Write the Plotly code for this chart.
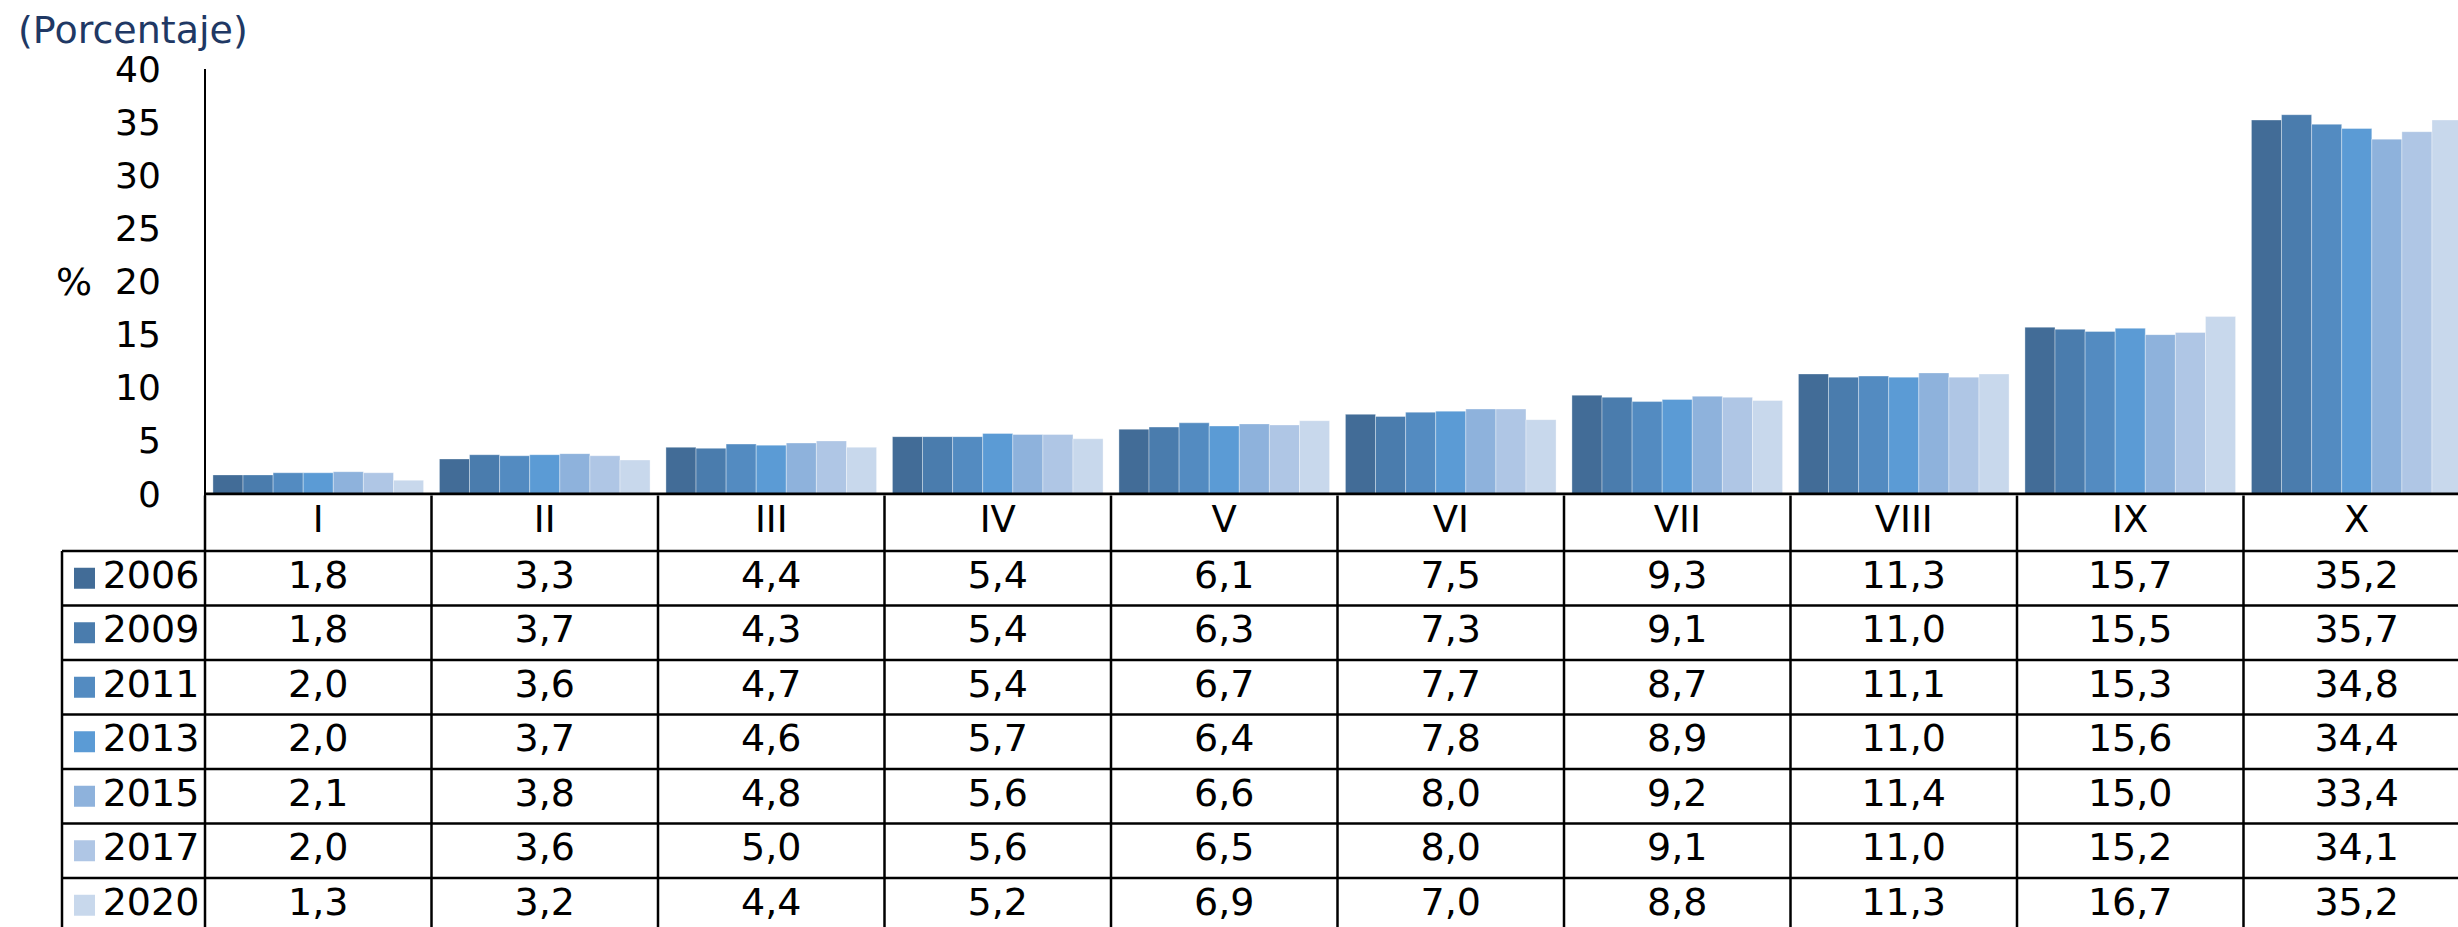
import plotly.graph_objects as go

# data
categories = ["I", "II", "III", "IV", "V", "VI", "VII", "VIII", "IX", "X"]
years = ["2006", "2009", "2011", "2013", "2015", "2017", "2020"]

v2006 = [1.8, 3.3, 4.4, 5.4, 6.1, 7.5, 9.3, 11.3, 15.7, 35.2]
v2009 = [1.8, 3.7, 4.3, 5.4, 6.3, 7.3, 9.1, 11.0, 15.5, 35.7]
v2011 = [2.0, 3.6, 4.7, 5.4, 6.7, 7.7, 8.7, 11.1, 15.3, 34.8]
v2013 = [2.0, 3.7, 4.6, 5.7, 6.4, 7.8, 8.9, 11.0, 15.6, 34.4]
v2015 = [2.1, 3.8, 4.8, 5.6, 6.6, 8.0, 9.2, 11.4, 15.0, 33.4]
v2017 = [2.0, 3.6, 5.0, 5.6, 6.5, 8.0, 9.1, 11.0, 15.2, 34.1]
v2020 = [1.3, 3.2, 4.4, 5.2, 6.9, 7.0, 8.8, 11.3, 16.7, 35.2]

series = [v2006, v2009, v2011, v2013, v2015, v2017, v2020]
colors = ["#426C97", "#4A7CAD", "#538BC1", "#5B9BD5", "#8EB2DC", "#AFC6E5", "#C8D8EC"]

y_ticks = [0, 5, 10, 15, 20, 25, 30, 35, 40]

FONT = "DejaVu Sans"
W, H = 2458, 927

# layout geometry (pixels -> axis units)
cat_w = 226.5            # px per category
axis_px = 205            # y axis position
left_px = 50
x_lo = -0.5 - (axis_px - left_px) / cat_w
x_hi = -0.5 + (W - axis_px) / cat_w
leg_left = -0.5 - (axis_px - 62) / cat_w
leg_square_x = -0.5 - (axis_px - 84.5) / cat_w
leg_text_x = -0.5 - (axis_px - 151) / cat_w

top_px = 69
zero_px = 494
plot_h = H - top_px
main_bottom_px = zero_px + 1.6
d0 = (H - main_bottom_px) / plot_h

row_h = 54.5
head_h = 57 / row_h
y2_top = (main_bottom_px - zero_px) / row_h
y2_bot = (H - zero_px) / row_h

xs = list(range(len(categories)))

fig = go.Figure()

for name, vals, col in zip(years, series, colors):
    fig.add_trace(go.Bar(
        x=xs, y=vals, name=name,
        marker=dict(color=col, line=dict(color="rgba(255,255,255,0.35)", width=1)),
        showlegend=False, hoverinfo="skip",
    ))

# table header
fig.add_trace(go.Scatter(
    x=xs, y=[head_h / 2] * len(xs), text=categories, mode="text",
    textposition="middle center", textfont=dict(family=FONT, size=37, color="black"),
    yaxis="y2", showlegend=False, hoverinfo="skip",
))

# table rows
for i, (name, vals, col) in enumerate(zip(years, series, colors)):
    yc = head_h + i + 0.5
    fig.add_trace(go.Scatter(
        x=xs, y=[yc] * len(xs),
        text=[f"{v:.1f}".replace(".", ",") for v in vals], mode="text",
        textposition="middle center", textfont=dict(family=FONT, size=38, color="black"),
        yaxis="y2", showlegend=False, hoverinfo="skip",
    ))
    fig.add_trace(go.Scatter(
        x=[leg_square_x], y=[yc], mode="markers",
        marker=dict(symbol="square", size=21, color=col),
        yaxis="y2", showlegend=False, hoverinfo="skip",
    ))
    fig.add_trace(go.Scatter(
        x=[leg_text_x], y=[yc], text=[name], mode="text",
        textposition="middle center", textfont=dict(family=FONT, size=38, color="black"),
        yaxis="y2", showlegend=False, hoverinfo="skip",
    ))

shapes = []
# zero line
shapes.append(dict(type="line", xref="x", yref="y", x0=-0.5, x1=x_hi + 1, y0=0, y1=0,
                   line=dict(color="black", width=3)))
# column separators
for k in range(len(categories) + 1):
    shapes.append(dict(type="line", xref="x", yref="y2", x0=-0.5 + k, x1=-0.5 + k,
                       y0=y2_top - 0.1, y1=y2_bot + 1, line=dict(color="black", width=2.5)))
# legend column left border
shapes.append(dict(type="line", xref="x", yref="y2", x0=leg_left, x1=leg_left,
                   y0=head_h, y1=y2_bot + 1, line=dict(color="black", width=2.5)))
# row separators
for i in range(len(years)):
    shapes.append(dict(type="line", xref="x", yref="y2", x0=leg_left, x1=x_hi + 1,
                       y0=head_h + i, y1=head_h + i, line=dict(color="black", width=2.5)))

fig.update_layout(
    width=W, height=H,
    margin=dict(l=left_px, r=0, t=top_px, b=0, autoexpand=False),
    paper_bgcolor="white", plot_bgcolor="white",
    barmode="group", bargap=0.07, bargroupgap=0,
    font=dict(family=FONT, color="black"),
    xaxis=dict(range=[x_lo, x_hi], visible=False, domain=[0, 1], automargin=False),
    yaxis=dict(
        domain=[d0, 1], range=[-0.15, 40], anchor="free",
        position=(axis_px - left_px) / (W - left_px), automargin=False,
        tickvals=y_ticks, ticktext=[str(t) for t in y_ticks],
        tickfont=dict(family=FONT, size=36, color="black"),
        ticks="", ticklabelstandoff=36,
        showline=True, linecolor="black", linewidth=2,
        showgrid=False, zeroline=False,
    ),
    yaxis2=dict(domain=[0, d0], range=[y2_bot, y2_top], anchor="x", visible=False,
                automargin=False),
    shapes=shapes,
    annotations=[
        dict(text="(Porcentaje)", xref="paper", yref="paper",
             x=(16 - left_px) / (W - left_px), y=1 + (top_px - 30) / plot_h,
             xanchor="left", yanchor="middle", showarrow=False,
             font=dict(family=FONT, size=38, color="#203864")),
        dict(text="%", xref="x", yref="y", x=-0.5 - (axis_px - 74) / cat_w, y=20,
             xanchor="center", yanchor="middle", showarrow=False,
             font=dict(family=FONT, size=38, color="black")),
    ],
)

# drop the default page margin so the figure fills the window exactly
fig.write_html("out.html", config={"displayModeBar": False},
               post_script="document.body.style.margin='0';document.body.style.overflow='hidden';")
